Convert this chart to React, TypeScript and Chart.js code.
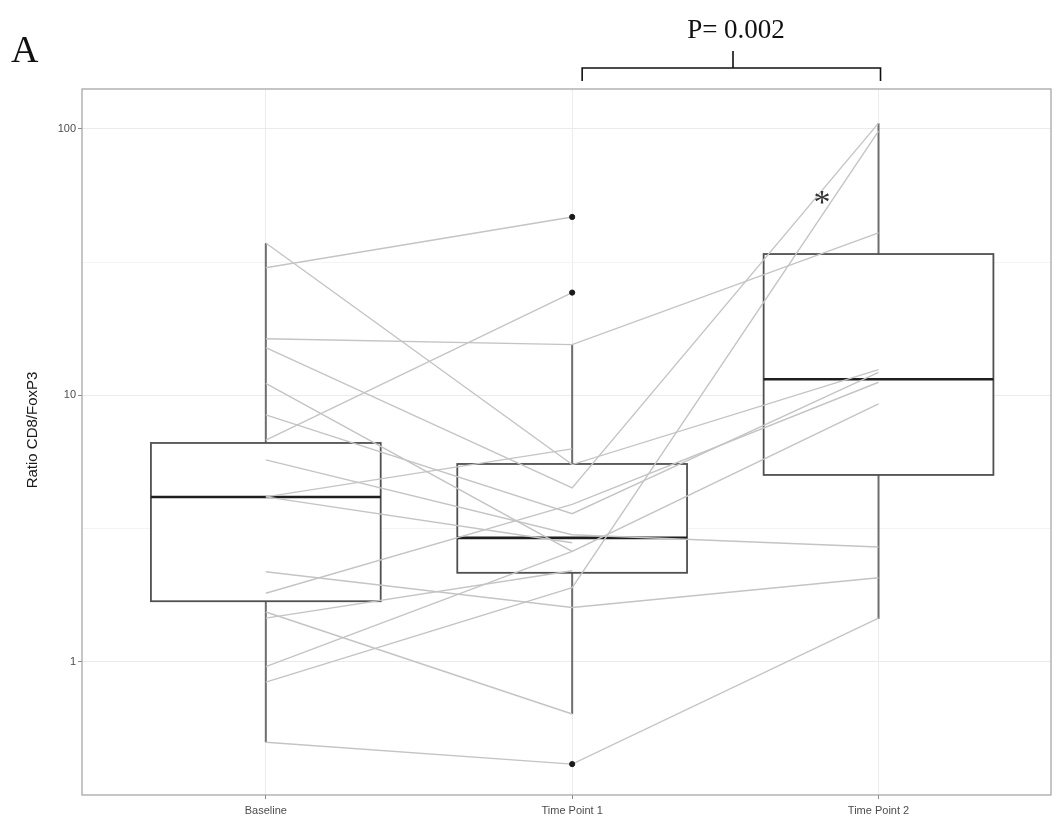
import React, { useEffect, useRef } from "react";
import { Chart, registerables } from "chart.js";

Chart.register(...registerables);

const categories = ["Baseline", "Time Point 1", "Time Point 2"];

// Paired patient values (null = no measurement at that time point)
const baselineValues = [37.3, 30.1, 16.3, 15.1, 11.1, 8.45, 6.8, 5.73, 4.16, 4.16, 2.18, 1.81, 1.54, 1.46, 0.96, 0.84, 0.5];
const tp1Values = [5.5, 46.7, 15.5, 4.5, 2.6, 3.6, 24.3, 3.0, 6.3, 2.8, 1.6, 3.9, 0.638, 2.2, 2.6, 1.9, 0.414];
const tp2Values = [12.5, null, 40.7, 105, 9.3, 12.2, null, 2.7, null, null, 2.07, 11.2, null, null, null, 98, 1.46];

// Box plot statistics per category
const boxQ1 = [1.69, 2.16, 5.03];
const boxMedian = [4.16, 2.92, 11.5];
const boxQ3 = [6.63, 5.53, 33.9];
const whiskerLow = [0.5, 0.638, 1.45];
const whiskerHigh = [37.3, 15.5, 105];

// Outliers
const outlierCategory = [2, 2, 2];
const outlierValues = [46.7, 24.3, 0.414];

const yMajorTicks = [1, 10, 100];
const yMinorTicks = [3.162, 31.62];

const Y_MIN = 0.317;
const Y_MAX = 141;

export default function App() {
  const ref = useRef<HTMLCanvasElement | null>(null);

  useEffect(() => {
    if (!ref.current) return;

    const lineDatasets = baselineValues.map((b, i) => ({
      type: "line" as const,
      data: [
        { x: 1, y: b },
        { x: 2, y: tp1Values[i] },
        { x: 3, y: tp2Values[i] },
      ],
      borderColor: "#c4c4c4",
      borderWidth: 1.4,
      pointRadius: 0,
      spanGaps: false,
      fill: false,
      order: 5,
    }));

    const outlierDataset = {
      type: "scatter" as const,
      data: outlierValues.map((v, i) => ({ x: outlierCategory[i], y: v })),
      backgroundColor: "#1a1a1a",
      borderColor: "#1a1a1a",
      pointRadius: 2.6,
      order: 0,
    };

    const boxPlugin = {
      id: "boxes",
      beforeDatasetsDraw(chart: any) {
        const { ctx, scales } = chart;
        const xs = scales.x;
        const ys = scales.y;
        const halfW = 0.375;
        ctx.save();
        for (let i = 0; i < categories.length; i++) {
          const cx = xs.getPixelForValue(i + 1);
          const l = xs.getPixelForValue(i + 1 - halfW);
          const r = xs.getPixelForValue(i + 1 + halfW);
          const yq1 = ys.getPixelForValue(boxQ1[i]);
          const yq3 = ys.getPixelForValue(boxQ3[i]);
          const ymed = ys.getPixelForValue(boxMedian[i]);
          const ylo = ys.getPixelForValue(whiskerLow[i]);
          const yhi = ys.getPixelForValue(whiskerHigh[i]);
          ctx.strokeStyle = "#6e6e6e";
          ctx.lineWidth = 2;
          ctx.beginPath();
          ctx.moveTo(cx, yq3);
          ctx.lineTo(cx, yhi);
          ctx.moveTo(cx, yq1);
          ctx.lineTo(cx, ylo);
          ctx.stroke();
          ctx.fillStyle = "#ffffff";
          ctx.fillRect(l, yq3, r - l, yq1 - yq3);
          ctx.strokeStyle = "#505050";
          ctx.lineWidth = 1.8;
          ctx.strokeRect(l, yq3, r - l, yq1 - yq3);
          ctx.strokeStyle = "#1f1f1f";
          ctx.lineWidth = 2.6;
          ctx.beginPath();
          ctx.moveTo(l, ymed);
          ctx.lineTo(r, ymed);
          ctx.stroke();
        }
        ctx.restore();
      },
      afterDraw(chart: any) {
        const { ctx, chartArea } = chart;
        ctx.save();
        ctx.strokeStyle = "#a0a0a0";
        ctx.lineWidth = 1.2;
        ctx.strokeRect(chartArea.left, chartArea.top, chartArea.right - chartArea.left, chartArea.bottom - chartArea.top);

        ctx.fillStyle = "#1a1a1a";
        ctx.font = "15px 'Liberation Sans', Arial, sans-serif";
        ctx.textAlign = "center";
        ctx.textBaseline = "middle";
        ctx.translate(33, 430);
        ctx.rotate(-Math.PI / 2);
        ctx.fillText("Ratio CD8/FoxP3", 0, 0);
        ctx.setTransform(1, 0, 0, 1, 0, 0);

        ctx.fillStyle = "#111111";
        ctx.font = "38px 'Liberation Serif', 'Times New Roman', serif";
        ctx.textAlign = "left";
        ctx.textBaseline = "alphabetic";
        ctx.fillText("A", 11, 62);

        ctx.font = "27px 'Liberation Serif', 'Times New Roman', serif";
        ctx.textAlign = "center";
        ctx.fillText("P= 0.002", 736, 38);

        const xs = chart.scales.x;
        const bx1 = xs.getPixelForValue(2) + 10;
        const bx2 = xs.getPixelForValue(3) + 2;
        const bmid = 733;
        ctx.strokeStyle = "#111111";
        ctx.lineWidth = 1.6;
        ctx.beginPath();
        ctx.moveTo(bx1, 81);
        ctx.lineTo(bx1, 68);
        ctx.lineTo(bx2, 68);
        ctx.lineTo(bx2, 81);
        ctx.moveTo(bmid, 68);
        ctx.lineTo(bmid, 51);
        ctx.stroke();

        ctx.fillStyle = "#333333";
        ctx.font = "34px 'Liberation Serif', 'Times New Roman', serif";
        ctx.textAlign = "center";
        ctx.fillText("*", 822, 213);
        ctx.restore();
      },
    };

    const chart = new Chart(ref.current, {
      type: "line",
      data: {
        datasets: [outlierDataset as any, ...lineDatasets],
      },
      options: {
        animation: false,
        responsive: false,
        maintainAspectRatio: false,
        layout: { padding: { top: 89, right: 3, left: 0, bottom: 0 } },
        plugins: {
          legend: { display: false },
          tooltip: { enabled: false },
          title: { display: false },
        },
        scales: {
          x: {
            type: "linear",
            bounds: "data",
            min: 0.4,
            max: 3.563,
            afterBuildTicks(scale: any) {
              scale.ticks = [1, 2, 3].map((v) => ({ value: v }));
            },
            afterFit(scale: any) {
              scale.height = 26;
            },
            ticks: {
              callback: (v: any) => categories[Number(v) - 1] ?? "",
              color: "#4d4d4d",
              font: { size: 11, family: "'Liberation Sans', Arial, sans-serif" },
              padding: 5,
              maxRotation: 0,
              autoSkip: false,
            },
            grid: {
              color: "#ececec",
              lineWidth: 1,
              tickLength: 4,
              tickColor: "#8a8a8a",
            },
            border: { display: false },
          },
          y: {
            type: "logarithmic",
            bounds: "data",
            min: Y_MIN,
            max: Y_MAX,
            afterBuildTicks(scale: any) {
              scale.ticks = [...yMinorTicks, ...yMajorTicks]
                .sort((a, b) => a - b)
                .map((v) => ({ value: v }));
            },
            afterFit(scale: any) {
              scale.width = 82;
            },
            ticks: {
              callback: (v: any) => (yMajorTicks.includes(Number(v)) ? String(v) : ""),
              color: "#4d4d4d",
              font: { size: 11, family: "'Liberation Sans', Arial, sans-serif" },
              padding: 2,
              autoSkip: false,
            },
            grid: {
              color: (c: any) => (c.tick && yMajorTicks.includes(c.tick.value) ? "#ebebeb" : "#f4f4f4"),
              lineWidth: 1,
              tickLength: 4,
              tickColor: (c: any) => (c.tick && yMajorTicks.includes(c.tick.value) ? "#8a8a8a" : "rgba(0,0,0,0)"),
            },
            border: { display: false },
          },
        },
      },
      plugins: [boxPlugin],
    });

    return () => chart.destroy();
  }, []);

  return (
    <div style={{ position: "absolute", left: 0, top: 0, width: 1056, height: 821, background: "#fff" }}>
      <canvas ref={ref} width={1056} height={821} style={{ display: "block" }} />
    </div>
  );
}
